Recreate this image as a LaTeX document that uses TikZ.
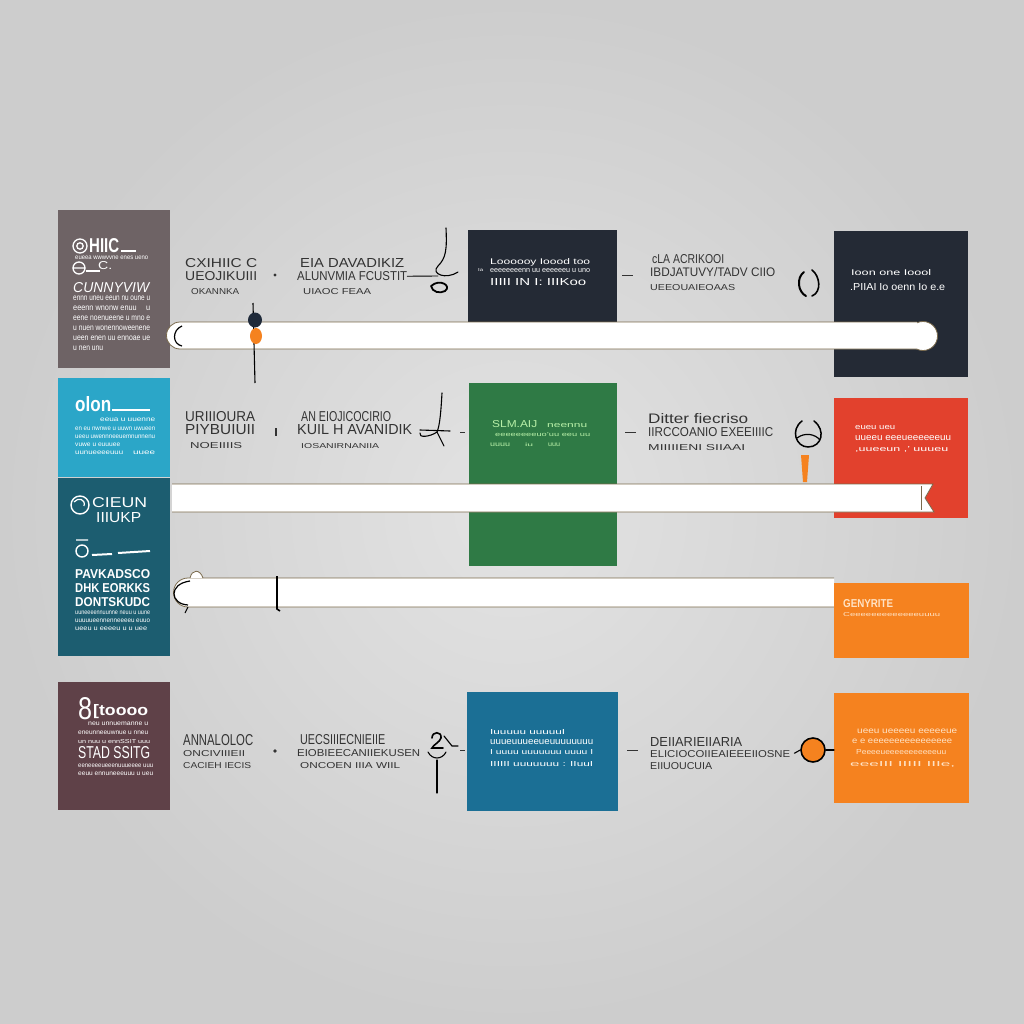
\documentclass[tikz,border=0pt]{standalone}
\usepackage{fontspec}
\setmainfont{Liberation Sans}
\usepackage{graphicx}
\definecolor{bgin}{HTML}{E3E3E3}
\definecolor{bgout}{HTML}{CDCDCD}
\definecolor{ctaupe}{HTML}{6E6365}
\definecolor{ccyan}{HTML}{2BA6C8}
\definecolor{cteal}{HTML}{1C5D70}
\definecolor{cmaroon}{HTML}{5F4148}
\definecolor{cnavy}{HTML}{242A35}
\definecolor{cgreen}{HTML}{2F7A45}
\definecolor{cblue}{HTML}{1B6F95}
\definecolor{cred}{HTML}{E2412D}
\definecolor{corange}{HTML}{F5821F}
\definecolor{cink}{HTML}{333333}
\definecolor{cbarline}{HTML}{7A6A4C}
\definecolor{cdot}{HTML}{1F2A3A}
\definecolor{lgreen}{HTML}{B8F0A8}
\definecolor{lorange}{HTML}{FFE2C4}
\newcommand\tln[3]{\resizebox{#1pt}{#2pt}{#3}}
\begin{document}
\begin{tikzpicture}[x=1pt,y=-1pt,
  box/.style={rectangle,draw=none,inner sep=0pt,anchor=north west},
  gtxt/.style={inner sep=0pt,anchor=north west,align=left,text=cink,font=\fontsize{9}{13.5}\selectfont},
  wtxt/.style={inner sep=0pt,anchor=north west,align=left,text=white,font=\fontsize{9}{10}\selectfont},
  bar/.style={fill=white,draw=cbarline,line width=0.8pt},
  ink/.style={draw=black,line width=1.1pt,line cap=round},
  dashc/.style={draw=cink,line width=1pt}]
\useasboundingbox (0,0) rectangle (1024,1024);
\shade[inner color=bgin,outer color=bgout] (0,0) rectangle (1024,1024);

% ---------- boxes ----------
\node[box,fill=ctaupe,minimum width=112pt,minimum height=158pt] (b1) at (58,210) {};
\node[box,fill=ccyan,minimum width=112pt,minimum height=99pt] (b2) at (58,378) {};
\node[box,fill=cteal,minimum width=112pt,minimum height=178pt] (b3) at (58,478) {};
\node[box,fill=cmaroon,minimum width=112pt,minimum height=128pt] (b4) at (58,682) {};
\node[box,fill=cnavy,minimum width=149pt,minimum height=92pt] (m1) at (468,230) {};
\node[box,fill=cgreen,minimum width=148pt,minimum height=183pt] (m2) at (469,383) {};
\node[box,fill=cblue,minimum width=151pt,minimum height=119pt] (m3) at (467,692) {};
\node[box,fill=cnavy,minimum width=134pt,minimum height=146pt] (r1) at (834,231) {};
\node[box,fill=cred,minimum width=134pt,minimum height=120pt] (r2) at (834,398) {};

% ---------- box 1 contents ----------
\draw[white,line width=1.3pt] (80,246) circle (7) (80,246) circle (3.2);
\node[wtxt,font=\bfseries] (b1h) at (89,238) {\tln{30}{14}{HIIC}};
\draw[white,line width=1.2pt] (121,251) -- (136,251);
\node[wtxt] (b1s) at (75,256) {\tln{73}{3.5}{eueea wwwvvne enes ueno}};
\draw[white,line width=1.3pt] (79,268) circle (6) (73,268) -- (85,268);
\node[wtxt] (b1c) at (90,261) {\tln{22}{8}{\_C.}};
\draw[white,line width=1.2pt] (86,271) -- (100,271);
\node[wtxt,font=\itshape] (b1t) at (73,282) {\tln{76}{10}{CUNNYVIW}};
\node[wtxt,font=\fontsize{9}{10}\selectfont] (b1l) at (73,296) {\tln{77}{4.5}{ennn uneu eeun nu oune u}\\\tln{77}{4.5}{eeenn wnonw enuu \quad u}\\\tln{77}{4.5}{eene noenueene u mno e}\\\tln{77}{4.5}{u nuen wonennoweenene}\\\tln{77}{4.5}{ueen enen uu ennoae ue}\\\tln{30}{4.5}{u nen unu}};

% ---------- box 2 contents ----------
\node[wtxt,font=\bfseries] (b2h) at (75,396) {\tln{36}{15}{olon}};
\draw[white,line width=1.2pt] (112,410) -- (150,410);
\node[wtxt,font=\fontsize{5}{8.3}\selectfont] (b2l) at (75,418) {\hspace*{25pt}\tln{55}{3.5}{eeua u uuenne}\\\tln{80}{3.5}{en eu nwnwe u uuwn uwueen}\\\tln{80}{3.5}{ueeu uwennneeuemnunnenu}\\\tln{45}{3.5}{vuwe u euuuee}\\\tln{48}{3.5}{uunueeeeuuu}\hspace*{10pt}\tln{22}{3.5}{uuee}};

% ---------- box 3 contents ----------
\draw[white,line width=1.4pt] (80,505) circle (9);
\draw[white,line width=1.2pt] (74,502) .. controls (78,497) and (86,499) .. (84,506);
\node[wtxt] (b3a) at (92,497) {\tln{55}{10}{CIEUN}};
\node[wtxt] (b3b) at (96,512) {\tln{45}{10}{IIIUKP}};
\draw[white,line width=1.4pt] (76,540) -- (88,540) (82,551) circle (6);
\draw[white,line width=2pt] (92,555) -- (112,554) (118,553) -- (150,551);
\node[wtxt,font=\fontsize{9}{14}\selectfont\bfseries] (b3c) at (75,569) {\tln{75}{9}{PAVKADSCO}\\\tln{75}{9}{DHK EORKKS}\\\tln{75}{9}{DONTSKUDC}};
\node[wtxt,font=\fontsize{5}{8}\selectfont] (b3l) at (75,611) {\tln{75}{3.5}{uuneeeennuunne neuu u uune}\\\tln{75}{3.5}{uuuuueennenneeeeu euuo}\\\tln{72}{3.5}{ueeu u eeeeu u u uee}};

% ---------- box 4 contents ----------
\node[wtxt] (b4n) at (78,697) {\tln{14}{22}{8}};
\node[wtxt,font=\bfseries] (b4h) at (93,704) {\tln{55}{11}{[toooo}};
\node[wtxt,font=\fontsize{5}{9}\selectfont] (b4l) at (78,722) {\hspace*{10pt}\tln{60}{3.5}{neu unnuemanne u}\\\tln{70}{3.5}{eneunneeuwnue u nneu}\\\tln{72}{4}{un nuu u ennSSIT uuu}};
\node[wtxt] (b4s) at (78,746) {\tln{72}{12}{STAD SSITG}};
\node[wtxt,font=\fontsize{5}{8}\selectfont] (b4m) at (78,764) {\tln{75}{3.5}{eeneeeeueeenuuueeee uuu}\\\tln{75}{3.5}{eeuu ennuneeeuuu u ueu}};

% ---------- middle / right box contents ----------
\node[wtxt] (m1a) at (490,258) {\tln{100}{6}{Loooooy Ioood too}};
\node[wtxt] (m1x) at (478,268) {\tln{5}{3}{Ia}};
\node[wtxt] (m1b) at (490,268) {\tln{100}{4}{eeeeeeeenn uu eeeeeeu u uno}};
\node[wtxt] (m1c) at (490,278) {\tln{96}{7}{IIIII IN I: IIIKoo}};
\node[wtxt] (r1a) at (851,269) {\tln{80}{6}{Ioon one Ioool}};
\node[wtxt] (r1b) at (850,283) {\tln{95}{7}{.PIIAI Io oenn Io e.e}};
\node[wtxt,text=lgreen] (m2a) at (492,420) {\tln{45}{7}{SLM.AIJ}\hspace*{10pt}\tln{40}{4}{neennu}};
\node[wtxt,text=lgreen] (m2b) at (495,432) {\tln{95}{4}{eeeeeeeeuo'uu eeu uu}};
\node[wtxt,text=lgreen] (m2c) at (490,443) {\tln{20}{3.5}{uuuu}\hspace*{15pt}\tln{8}{3.5}{iu}\hspace*{15pt}\tln{12}{3.5}{uuu}};
\node[wtxt] (r2a) at (855,425) {\tln{40}{4}{eueu ueu}};
\node[wtxt] (r2b) at (855,435) {\tln{96}{5}{uueeu eeeueeeeeeuu}};
\node[wtxt] (r2c) at (855,446) {\tln{93}{5}{,uueeun ,' uuueu}};
\node[wtxt] (m3a) at (490,729) {\tln{75}{5}{Iuuuuu uuuuuI}};
\node[wtxt] (m3b) at (490,739) {\tln{103}{5}{uuueuuueeueuuuuuuuu}};
\node[wtxt] (m3c) at (490,749) {\tln{103}{5}{I uuuu uuuuuuu uuuu I}};
\node[wtxt] (m3d) at (490,761) {\tln{103}{5}{IIIIII uuuuuuu : IIuuI}};

% ---------- bars ----------
\filldraw[bar] (923,336) circle (14.5);
\filldraw[bar] (917,322) -- (180,322) arc (270:90:13.5) -- (917,349);
\draw[black,line width=1.2pt] (182,326) .. controls (172,330) and (172,344) .. (182,346);
\filldraw[bar] (172,484) -- (933,484) -- (925,498) -- (934,512) -- (172,512);
\draw[cbarline,line width=0.8pt] (921,486) -- (921,510);
\filldraw[bar] (834,578) -- (188,578) arc (270:90:14.5) -- (834,607);
\draw[bar,fill=white] (190,578) .. controls (192,569) and (200,569) .. (203,578);
\draw[black,line width=1.2pt] (190,581) .. controls (168,584) and (170,604) .. (188,605);
\draw[black,line width=1pt] (188,607) -- (185,613);
\draw[black,line width=1.6pt] (277,576) -- (277,609) -- (280,611);

% orange boxes
\node[box,fill=corange,minimum width=135pt,minimum height=75pt] (r3) at (834,583) {};
\node[box,fill=corange,minimum width=135pt,minimum height=110pt] (r4) at (834,693) {};
\node[wtxt,text=lorange,font=\bfseries] (r3a) at (843,599) {\tln{50}{8}{GENYRITE}};
\node[wtxt,text=lorange] (r3b) at (843,612) {\tln{97}{4}{Ceeeeeeeeeeeeeuuuu}};
\node[wtxt,text=lorange] (r4a) at (857,729) {\tln{100}{4.5}{ueeu ueeeeu eeeeeue}};
\node[wtxt,text=lorange] (r4b) at (852,739) {\tln{100}{4.5}{e e eeeeeeeeeeeeeeee}};
\node[wtxt,text=lorange] (r4c) at (856,749) {\tln{90}{5}{Peeeeueeeeeeeeeeeuu}};
\node[wtxt,text=lorange] (r4d) at (850,761) {\tln{105}{5}{eeeIII IIIII IIIe,}};

% ---------- vertical line with dots ----------
\coordinate (vtop) at (253,303);
\coordinate (vbot) at (255,383);
\draw[black,line width=1.1pt] (vtop) -- (vbot);
\fill[cdot] (255,320) circle [x radius=7,y radius=7.5];
\fill[corange] (256,336) circle [x radius=6,y radius=8];

% ---------- row 1 texts ----------
\node[gtxt] (t1a) at (185,258) {\tln{72}{9}{CXIHIIC C}\\\tln{72}{9}{UEOJIKUIII}\\\hspace*{6pt}\tln{48}{6}{OKANNKA}};
\node[circle,fill=cink,inner sep=1.2pt] (d1) at (275,275) {};
\node[gtxt] (t1b) at (297,258) {\hspace*{3pt}\tln{104}{9}{EIA DAVADIKIZ}\\\tln{110}{9}{ALUNVMIA FCUSTIT}\\\hspace*{6pt}\tln{68}{6}{UIAOC FEAA}};
\node[gtxt] (t1c) at (650,254) {\hspace*{2pt}\tln{72}{9}{cLA ACRIKOOI}\\\tln{125}{9}{IBDJATUVY/TADV CIIO}\\\tln{85}{6}{UEEOUAIEOAAS}};
\coordinate (g1) at (438,276);
\draw[ink,line width=0.9pt] (t1b.east) -- (g1);
\draw[ink] (446,228) .. controls (447,250) and (446,258) .. (438,266) .. controls (430,274) and (446,280) .. (458,272);
\draw[ink,line width=1.8pt] (431,286) .. controls (440,278) and (452,286) .. (445,291) .. controls (440,294) and (432,292) .. (431,286);
\coordinate (e1) at (633,275);
\draw[dashc] (m1.east |- e1) ++(5,0) -- (e1);
\draw[ink,line width=2pt] (804,272) .. controls (796,278) and (798,292) .. (806,296);
\draw[ink,line width=1.6pt] (812,270) .. controls (820,276) and (822,292) .. (812,296);

% ---------- row 2 texts ----------
\node[gtxt] (t2a) at (185,411) {\tln{70}{10}{URIIIOURA}\\\tln{70}{10}{PIYBUIUII}\\\hspace*{5pt}\tln{52}{6}{NOEIIIIS}};
\node[rectangle,fill=cink,inner sep=0pt,minimum width=1.4pt,minimum height=8pt] (d2) at (276,432) {};
\node[gtxt] (t2b) at (297,411) {\hspace*{4pt}\tln{90}{10}{AN EIOJICOCIRIO}\\\tln{115}{10}{KUIL H AVANIDIK}\\\hspace*{4pt}\tln{78}{5}{IOSANIRNANIIA}};
\node[gtxt] (t2c) at (648,413) {\tln{100}{10}{Ditter fiecriso}\\\tln{125}{9}{IIRCCOANIO EXEEIIIIC}\\\tln{97}{6}{MIIIIIENI SIIAAI}};
\coordinate (g2) at (437,432);
\draw[ink] (442,393) .. controls (441,410) and (440,425) .. (g2) .. controls (430,437) and (418,438) .. (420,433);
\draw[ink] (420,430) -- (450,431);
\draw[ink] (g2) -- (444,446);
\draw[dashc] (460,432) -- (465,432);
\coordinate (e2) at (636,432);
\draw[dashc] (m2.east |- e2) ++(8,0) -- (e2);
\draw[ink,line width=1.5pt] (802,421) .. controls (790,430) and (796,447) .. (808,447) .. controls (822,447) and (826,430) .. (814,421);
\draw[ink,line width=1.2pt] (797,438) .. controls (805,432) and (815,434) .. (820,440);
\fill[corange] (801,455) -- (809,455) -- (807,482) -- (803,482) -- cycle;

% ---------- row 4 texts ----------
\node[gtxt] (t4a) at (183,734) {\tln{70}{11}{ANNALOLOC}\\[-2pt]\tln{62}{6}{ONCIVIIIEII}\\[-2pt]\tln{68}{6}{CACIEH IECIS}};
\node[circle,fill=cink,inner sep=1.3pt] (d4) at (275,751) {};
\node[gtxt] (t4b) at (297,734) {\hspace*{3pt}\tln{85}{10}{UECSIIIECNIEIIE}\\[-1pt]\tln{123}{7}{EIOBIEECANIIEKUSEN}\\[-2pt]\hspace*{3pt}\tln{100}{6}{ONCOEN IIIA WIIL}};
\node[gtxt] (t4c) at (650,737) {\tln{92}{9}{DEIIARIEIIARIA}\\[-2pt]\tln{140}{7}{ELICIOCOIIEAIEEEIIOSNE}\\[-2pt]\tln{62}{7}{EIIUOUCUIA}};
\coordinate (g4) at (437,750);
\draw[ink,line width=1.6pt] (432,738) .. controls (432,731) and (442,731) .. (441,738) .. controls (440,742) and (433,745) .. (432,748) -- (443,748);
\draw[ink] (444,736) -- (452,746) -- (458,746);
\draw[ink] (428,752) .. controls (432,760) and (442,760) .. (446,752);
\draw[ink] (437,760) -- (437,793);
\draw[dashc] (460,750) -- (465,750);
\coordinate (e4) at (638,750);
\draw[dashc] (m3.east |- e4) ++(9,0) -- (e4);
\node[circle,fill=corange,draw=black,line width=1.6pt,minimum width=22pt,minimum height=24pt,inner sep=0pt] (oc) at (813,750) {};
\draw[ink] (t4c.east) ++(4,0) -- (oc.west);
\draw[ink] (oc.east) -- (r4.west |- oc.east);
\end{tikzpicture}
\end{document}
